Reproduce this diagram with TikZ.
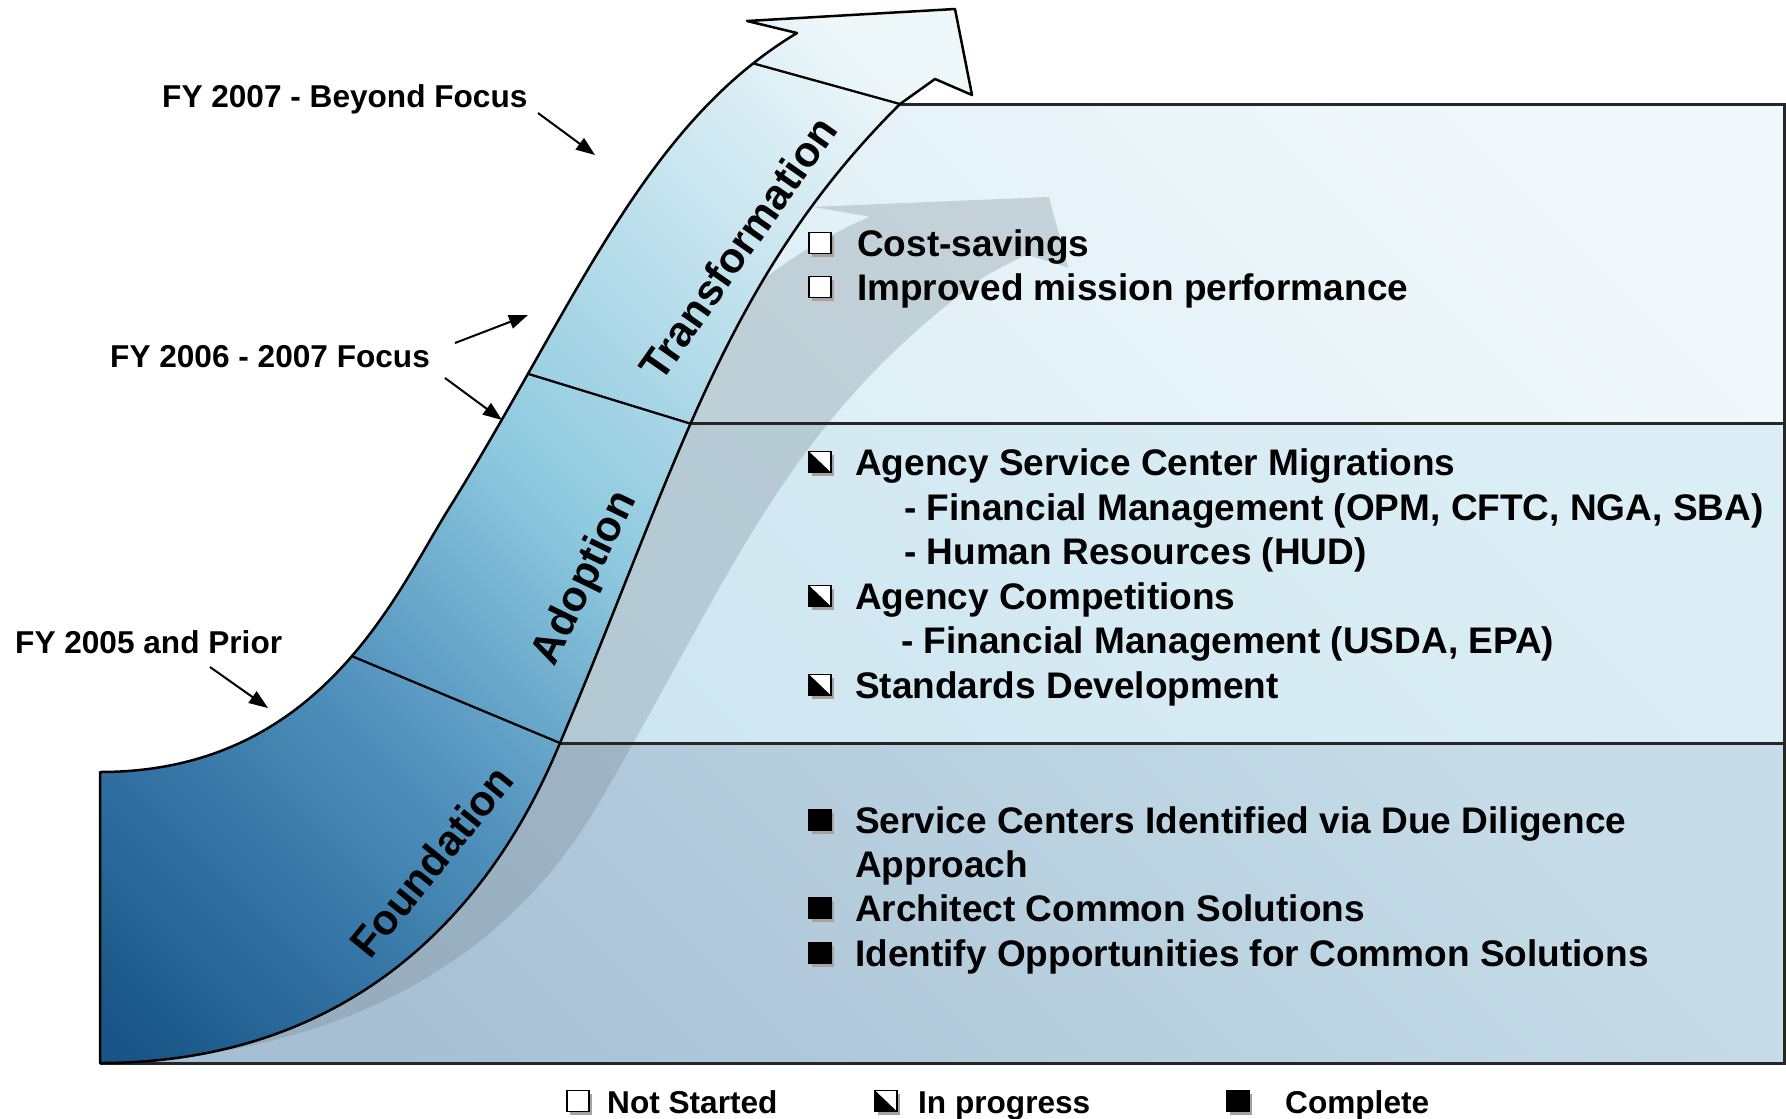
\documentclass[tikz,border=0pt]{standalone}
\usepackage{fontspec}
\setmainfont{Liberation Sans}
\usetikzlibrary{arrows.meta,shadows}
\definecolor{arA}{HTML}{185586}
\definecolor{arB}{HTML}{3676A6}
\definecolor{arC}{HTML}{5393BE}
\definecolor{arD}{HTML}{8EC9DF}
\definecolor{arE}{HTML}{C6E4EF}
\definecolor{arF}{HTML}{EEF7FA}
\definecolor{bandTa}{HTML}{D6EBF4}
\definecolor{bandTb}{HTML}{F1F8FB}
\definecolor{bandMa}{HTML}{CBE4EF}
\definecolor{bandMb}{HTML}{DCEEF5}
\definecolor{bandBa}{HTML}{A6BFD3}
\definecolor{bandBb}{HTML}{C6DCE8}
\definecolor{shadowc}{HTML}{6F7F8A}
\definecolor{boxshadow}{HTML}{AAA09E}
\pgfdeclareverticalshading{arrowsh}{100bp}{color(0bp)=(arA); color(16bp)=(arA); color(28bp)=(arB); color(38bp)=(arC); color(52bp)=(arD); color(68bp)=(arE); color(80bp)=(arF); color(100bp)=(arF)}
\begin{document}
\begin{tikzpicture}[x=1pt,y=-1pt,
  mtxt/.style={anchor=base west, inner sep=0pt, font=\fontsize{37}{44}\selectfont\bfseries},
  ltxt/.style={anchor=base west, inner sep=0pt, font=\fontsize{31.6}{38}\selectfont\bfseries},
  rtxt/.style={inner sep=0pt, text height=0.6em, text depth=0pt, font=\fontsize{42.5}{50}\selectfont\bfseries},
  ibox/.style={draw=black, line width=1.7pt, minimum width=22pt, minimum height=21pt, inner sep=0pt, fill=white,
     drop shadow={shadow xshift=3pt, shadow yshift=-3pt, fill=boxshadow, opacity=1}},
  halfb/.style={path picture={\fill[black] (path picture bounding box.north west) -- (path picture bounding box.south west) -- (path picture bounding box.south east) -- cycle;}},
  fullb/.style={fill=black},
  larr/.style={line width=2pt, -{Triangle[length=19pt,width=14pt]}},
  divl/.style={line width=2.3pt, black},
  bandl/.style={line width=3pt, black!85},
  outl/.style={line width=2.5pt, black, line join=round}
]
\useasboundingbox (0,0) rectangle (1786,1119);
% key points
\coordinate (BL) at (100,1063);
\coordinate (TL) at (100,772);
\coordinate (OJ) at (448,510);
\coordinate (ON) at (797,33);
\coordinate (HB) at (747,21);
\coordinate (HC) at (955,9);
\coordinate (HT) at (972,95);
\coordinate (HN) at (935,79);
\coordinate (IE) at (900,104);
\coordinate (IJ) at (560,743);
\coordinate (RT) at (1784,104);
\coordinate (RB) at (1784,1063);
\path (TL) .. controls (320,772) and (395,595) .. (OJ) coordinate[pos=0.55] (OL);
\path (OJ) .. controls (575,306) and (642.7,125.7) .. (ON) coordinate[pos=0.23] (OM) coordinate[pos=0.9] (OT);
\path (IJ) .. controls (677,467) and (723.3,279.8) .. (IE) coordinate[pos=0.44] (IM);

% bands and shadow
\begin{scope}
  \clip (BL) .. controls (420,1063) and (528.8,816.6) .. (IJ) .. controls (677,467) and (723.3,279.8) .. (IE) -- (RT) -- (RB) -- cycle;
  \shade[bottom color=bandTa, top color=bandTb, shading angle=-45] (100,104) rectangle (IM -| RB);
  \shade[bottom color=bandMa, top color=bandMb, shading angle=-45] (IM -| TL) rectangle (IJ -| RB);
  \shade[bottom color=bandBa, top color=bandBb, shading angle=-45] (IJ -| TL) rectangle (RB);
  \begin{scope}[shift={(-35,189.6)}, xscale=1.135, yscale=0.8216]
    \fill[shadowc, opacity=0.28] (100,1063) -- (100,772) .. controls (320,772) and (395,595) .. (448,510)
      .. controls (575,306) and (642.7,125.7) .. (797,33) -- (747,21) -- (955,9) -- (972,95) -- (935,79) -- (900,104)
      .. controls (723.3,279.8) and (677,467) .. (560,743) .. controls (528.8,816.6) and (420,1063) .. (100,1063) -- cycle;
  \end{scope}
\end{scope}
\draw[bandl] (IM) -- (IM -| RB);
\draw[bandl] (IJ) -- (IJ -| RB);
\draw[bandl] (IE) -- (RT) -- (RB) -- (BL);

% main arrow
\shadedraw[shading=arrowsh, shading angle=-45, outl] (BL) -- (TL) .. controls (320,772) and (395,595) .. (OJ)
  .. controls (575,306) and (642.7,125.7) .. (ON) -- (HB) -- (HC) -- (HT) -- (HN) -- (IE)
  .. controls (723.3,279.8) and (677,467) .. (IJ) .. controls (528.8,816.6) and (420,1063) .. (BL) -- cycle;
\draw[divl] (OL) -- (IJ);
\draw[divl] (OM) -- (IM);
\draw[divl] (OT) -- (IE);

\node[rtxt, rotate=51] (fnd) at (441,869) {Foundation};
\node[rtxt, rotate=64] (adp) at (593,582) {Adoption};
\node[rtxt, rotate=55] (trf) at (748,255) {Transformation};

% left labels
\node[ltxt] (l1) at (162,107) {FY 2007 - Beyond Focus};
\node[ltxt] (l2) at (110,367) {FY 2006 - 2007 Focus};
\node[ltxt] (l3) at (15,653) {FY 2005 and Prior};
\coordinate (a1s) at (538,113); \coordinate (a1e) at (595,155);
\coordinate (a2s) at (455,343); \coordinate (a2e) at (528,315);
\coordinate (a3s) at (445,378); \coordinate (a3e) at (502,420);
\coordinate (a4s) at (210,667); \coordinate (a4e) at (268,708);
\draw[larr] (a1s) -- (a1e);
\draw[larr] (a2s) -- (a2e);
\draw[larr] (a3s) -- (a3e);
\draw[larr] (a4s) -- (a4e);

% top band items
\node[ibox] (c1) at (820,243) {};
\node[mtxt] (t1) at (857,256) {Cost-savings};
\node[ibox] (c2) at (820,287) {};
\node[mtxt] (t2) at (857,300) {Improved mission performance};
% middle band items
\node[ibox,halfb] (c3) at (820,462) {};
\node[mtxt] (t3) at (855,475) {Agency Service Center Migrations};
\node[mtxt] (t4) at (904,520) {- Financial Management (OPM, CFTC, NGA, SBA)};
\node[mtxt] (t5) at (904,564) {- Human Resources (HUD)};
\node[ibox,halfb] (c4) at (820,596) {};
\node[mtxt] (t6) at (855,609) {Agency Competitions};
\node[mtxt] (t7) at (901,653) {- Financial Management (USDA, EPA)};
\node[ibox,halfb] (c5) at (820,685) {};
\node[mtxt] (t8) at (855,698) {Standards Development};
% bottom band items
\node[ibox,fullb] (c6) at (820,820) {};
\node[mtxt] (t9) at (855,833) {Service Centers Identified via Due Diligence};
\node[mtxt] (t10) at (855,877) {Approach};
\node[ibox,fullb] (c7) at (820,908) {};
\node[mtxt] (t11) at (855,921) {Architect Common Solutions};
\node[ibox,fullb] (c8) at (820,953) {};
\node[mtxt] (t12) at (855,966) {Identify Opportunities for Common Solutions};
% legend
\node[ibox] (g1) at (578,1101) {};
\node[ltxt] (gt1) at (607,1113) {Not Started};
\node[ibox,halfb] (g2) at (886,1101) {};
\node[ltxt] (gt2) at (918,1113) {In progress};
\node[ibox,fullb] (g3) at (1238,1101) {};
\node[ltxt] (gt3) at (1285,1113) {Complete};
\end{tikzpicture}
\end{document}
